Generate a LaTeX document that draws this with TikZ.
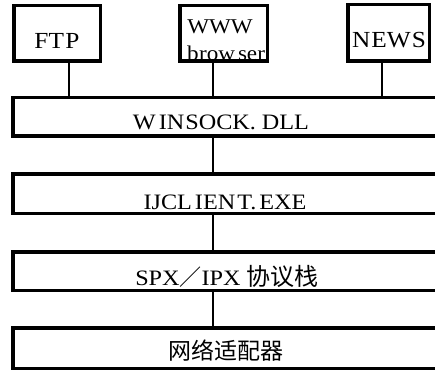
\documentclass[tikz,border=0pt]{standalone}
\usepackage{fontspec}
\setmainfont{Liberation Serif}[FakeStretch=1.1]
\newfontfamily\cjk{Noto Sans CJK SC}
\begin{document}
\begin{tikzpicture}[x=1pt,y=-1pt,
  box/.style={draw=black,line width=3.5pt,inner sep=0pt,fill=none},
  wire/.style={draw=black,line width=1.4pt},
  lbl/.style={anchor=base,inner sep=0pt,font=\fontsize{23}{25}\selectfont}]
\useasboundingbox (0,0) rectangle (435,371);
\clip (0,0) rectangle (435,371);
% texts
\node[lbl] (tftp) at (57,49) {FT\kern1.5pt P};
\node[lbl,font=\fontsize{21}{23}\selectfont] (twww) at (220,34) {WWW};
\node[lbl,font=\fontsize{21}{23}\selectfont] (tbrow) at (226,61) {b\kern0.5pt row\kern3pt ser};
\node[lbl] (tnews) at (389,48) {N\kern1pt EW\kern1pt S};
\node[lbl,font=\fontsize{22}{24}\selectfont] (twin) at (221,130) {W\kern3pt IN\kern1pt SOCK. DLL};
\node[lbl,font=\fontsize{22}{24}\selectfont] (tij) at (225,209) {IJCL\kern3pt IEN\kern2pt T.\kern3pt EXE};
\node[lbl,font=\fontsize{22}{24}\selectfont] (tspx) at (227,285) {SPX{\cjk\fontsize{22}{24}\selectfont ／}IPX {\cjk\fontsize{24}{26}\selectfont 协议栈}};
\node[lbl,font=\cjk\fontsize{23}{25}\selectfont] (tnet) at (226,359) {网络适配器};
% boxes
\node[box,minimum width=86.5pt,minimum height=55.5pt] (ftp) at (57,33.5) {};
\node[box,minimum width=87.5pt,minimum height=55.5pt] (www) at (223.5,33.5) {};
\node[box,minimum width=81.5pt,minimum height=56.5pt] (news) at (388.5,33) {};
\node[box,minimum width=447.25pt,minimum height=38.5pt] (win) at (236.4,117) {};
\node[box,minimum width=447.25pt,minimum height=39.5pt] (ij) at (236.4,193.5) {};
\node[box,minimum width=447.25pt,minimum height=38.5pt] (spx) at (236.4,271) {};
\node[box,minimum width=447.25pt,minimum height=40.5pt] (net) at (236.4,348) {};
% connector anchors
\coordinate (cftp) at (69,63);
\coordinate (cwww) at (213,63);
\coordinate (cnews) at (382,63);
\coordinate (cmid) at (213,0);
\draw[wire] (cftp) -- (cftp |- win.north);
\draw[wire] (cwww) -- (cwww |- win.north);
\draw[wire] (cnews) -- (cnews |- win.north);
\draw[wire] (cmid |- win.south) -- (cmid |- ij.north);
\draw[wire] (cmid |- ij.south) -- (cmid |- spx.north);
\draw[wire] (cmid |- spx.south) -- (cmid |- net.north);
\end{tikzpicture}
\end{document}
